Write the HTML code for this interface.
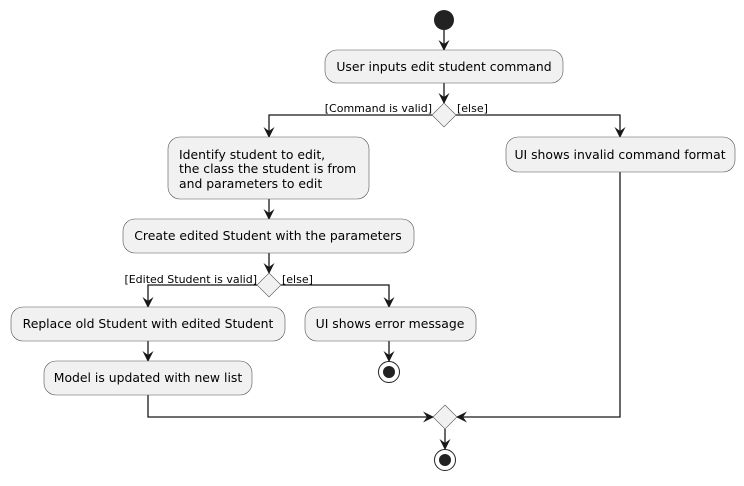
<!DOCTYPE html>
<html><head><style>body{margin:0;background:#fff}</style></head><body>
<svg width="744" height="481" xmlns="http://www.w3.org/2000/svg" font-family="DejaVu Sans, sans-serif">
<defs><marker id="a" viewBox="0 0 12 12" refX="10" refY="6" markerWidth="12" markerHeight="12" orient="auto" markerUnits="userSpaceOnUse"><path d="M0,0.5 L11,6 L0,11.5 L4,6 Z" fill="#181818"/></marker></defs>
<g stroke="#181818" stroke-width="1.3" fill="none">
<line x1="444" y1="30" x2="444" y2="50" marker-end="url(#a)"/>
<line x1="444" y1="83" x2="444" y2="103" marker-end="url(#a)"/>
<polyline points="432,115 269,115 269,137" marker-end="url(#a)"/>
<polyline points="456,115 620,115 620,137" marker-end="url(#a)"/>
<line x1="269" y1="199" x2="269" y2="219" marker-end="url(#a)"/>
<line x1="269" y1="253" x2="269" y2="273" marker-end="url(#a)"/>
<polyline points="257,285 148,285 148,307" marker-end="url(#a)"/>
<polyline points="281,285 389,285 389,307" marker-end="url(#a)"/>
<line x1="389" y1="341" x2="389" y2="361" marker-end="url(#a)"/>
<line x1="148" y1="341" x2="148" y2="361" marker-end="url(#a)"/>
<polyline points="148,395 148,417 433,417" marker-end="url(#a)"/>
<polyline points="620,172 620,417 457,417" marker-end="url(#a)"/>
<line x1="445" y1="429" x2="445" y2="449" marker-end="url(#a)"/>
</g>
<circle cx="444" cy="20" r="10" fill="#222"/>
<g fill="#f1f1f1" stroke="#555" stroke-width="0.6">
<rect x="325" y="50" width="238" height="33" rx="12"/>
<rect x="168" y="137" width="201" height="62" rx="12"/>
<rect x="506" y="137" width="229" height="35" rx="12"/>
<rect x="123" y="219" width="291" height="34" rx="12"/>
<rect x="11" y="307" width="274" height="34" rx="12"/>
<rect x="305" y="307" width="171" height="34" rx="12"/>
<rect x="44" y="361" width="208" height="34" rx="12"/>
<polygon points="444,103 456,115 444,127 432,115"/>
<polygon points="269,273 281,285 269,297 257,285"/>
<polygon points="445,405 457,417 445,429 433,417"/>
</g>
<g fill="none" stroke="#222" stroke-width="1"><circle cx="389" cy="372" r="10.5"/><circle cx="445" cy="460" r="10.5"/></g>
<circle cx="389" cy="372" r="6" fill="#222"/><circle cx="445" cy="460" r="6" fill="#222"/>
<g font-size="12.4" fill="#000">
<text x="444" y="71" text-anchor="middle">User inputs edit student command</text>
<text x="179" y="159">Identify student to edit,</text>
<text x="179" y="173">the class the student is from</text>
<text x="179" y="188">and parameters to edit</text>
<text x="620" y="159" text-anchor="middle">UI shows invalid command format</text>
<text x="268" y="240" text-anchor="middle">Create edited Student with the parameters</text>
<text x="148" y="328" text-anchor="middle">Replace old Student with edited Student</text>
<text x="390" y="328" text-anchor="middle">UI shows error message</text>
<text x="148" y="382" text-anchor="middle">Model is updated with new list</text>
</g>
<g font-size="11" fill="#000">
<text x="432" y="112" text-anchor="end">[Command is valid]</text>
<text x="457" y="112">[else]</text>
<text x="257" y="283" text-anchor="end">[Edited Student is valid]</text>
<text x="282" y="283">[else]</text>
</g>
</svg>
</body></html>
